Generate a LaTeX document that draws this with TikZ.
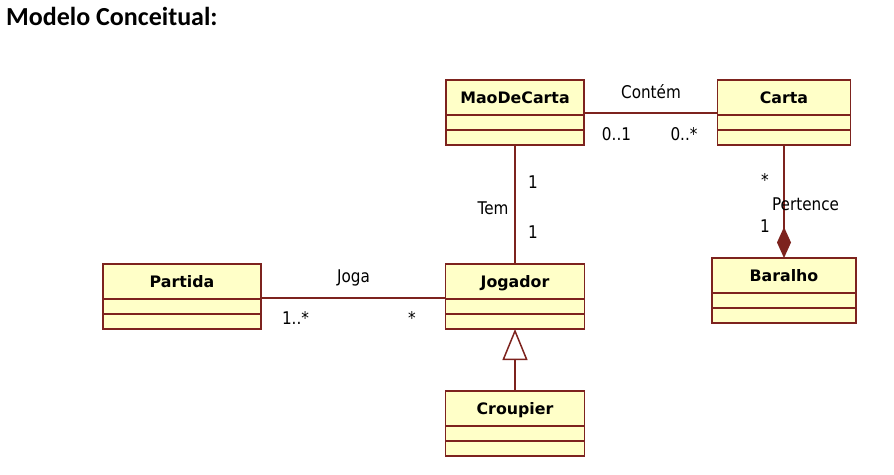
\documentclass[tikz,border=0pt]{standalone}
\usepackage{fontspec}
\setmainfont{DejaVu Sans}
\newfontfamily\titlefont{Carlito}
\newfontfamily\lblfont[FakeStretch=0.87]{DejaVu Sans}
\usepackage{tikz}
\usetikzlibrary{positioning,arrows.meta}
\definecolor{umlfill}{RGB}{255,255,200}
\definecolor{umlline}{RGB}{125,35,30}
\tikzset{classhead/.style={draw=umlline,fill=umlfill,line width=1.5pt,outer sep=0pt,
        minimum height=35pt,inner sep=0pt,text height=11.5pt,text depth=0pt,
        font=\bfseries\fontsize{15.8}{18}\selectfont},
    compart/.style={draw=umlline,fill=umlfill,line width=1.5pt,outer sep=0pt,
        minimum height=15pt,inner sep=0pt},
    mult/.style={font=\lblfont\fontsize{17.5}{20}\selectfont,anchor=base,inner sep=0pt},
    assoc/.style={draw=umlline,line width=1.5pt},
    compo/.style={assoc,-{Diamond[length=31pt,width=14pt,fill=umlline]}},
    gener/.style={assoc,-{Triangle[open,length=31pt,width=25pt,fill=white]}}}

\begin{document}
\begin{tikzpicture}[x=1pt,y=-1pt]
\useasboundingbox (0,0) rectangle (894,474);
\node[font=\titlefont\bfseries\fontsize{26}{30}\selectfont,anchor=base west,inner sep=0pt]
    (title) at (6,25) {Modelo Conceitual:};
% classes: header + two empty compartments
\foreach \nm/\txt/\cx/\cy/\w in {mao/MaoDeCarta/515/97.5/138,
        carta/Carta/784/97.5/133,
        bar/Baralho/784/275.5/144,
        part/Partida/182/281.5/158,
        jog/Jogador/515/281.5/139,
        crou/Croupier/515/408.5/139}{
    \node[classhead,minimum width=\w pt] (\nm) at (\cx,\cy) {\txt};
    \node[compart,minimum width=\w pt,below=0pt of \nm] (\nm a) {};
    \node[compart,minimum width=\w pt,below=0pt of \nm a] (\nm b) {};
}
% associations
\draw[assoc] ([yshift=2pt]mao.south east) -- ([yshift=2pt]carta.south west);
\draw[assoc] (maob.south) -- (jog.north);
\draw[compo] (cartab.south) -- (bar.north);
\draw[assoc] ([yshift=1pt]part.south east) -- ([yshift=1pt]jog.south west);
\draw[gener] (crou.north) -- (jogb.south);
% labels
\node[mult] (contem) at (651,98) {Contém};
\node[mult] (m1) at (616.5,140) {0..1};
\node[mult] (m2) at (684,140) {0..*};
\node[mult] (tem) at (493,214) {Tem};
\node[mult] (m3) at (533,188) {1};
\node[mult] (m4) at (533,238) {1};
\node[mult] (m5) at (765,186) {*};
\node[mult] (pert) at (805.5,210) {Pertence};
\node[mult] (m6) at (765,232) {1};
\node[mult] (joga) at (353.5,282) {Joga};
\node[mult] (m7) at (295.5,324) {1..*};
\node[mult] (m8) at (412,324) {*};
\end{tikzpicture}
\end{document}
